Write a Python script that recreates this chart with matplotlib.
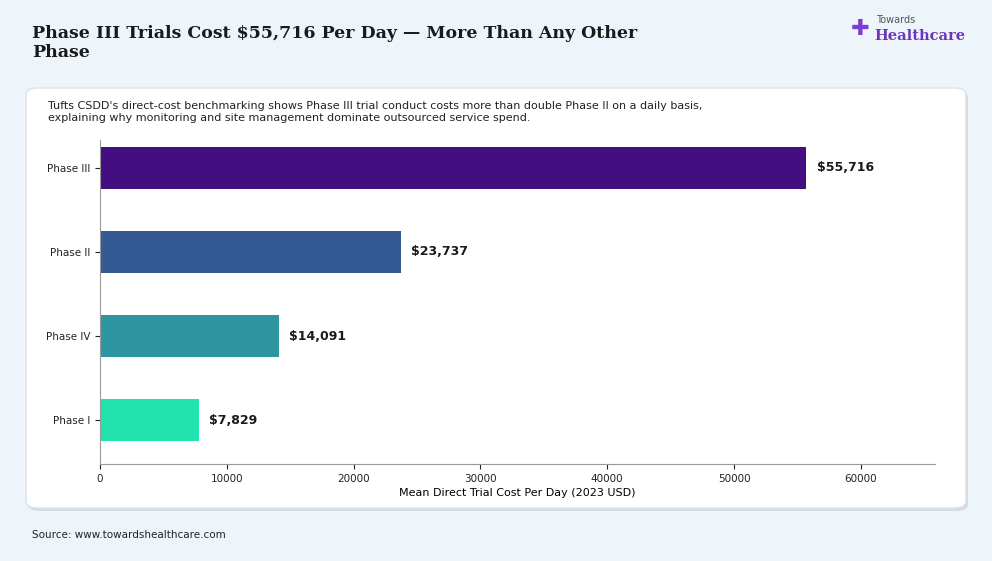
import matplotlib
matplotlib.use("Agg")
import matplotlib.pyplot as plt
from matplotlib.patches import FancyBboxPatch

phases = ["Phase I", "Phase IV", "Phase II", "Phase III"]
costs = [7829, 14091, 23737, 55716]
colors = ["#22e2ae", "#2d96a0", "#335a92", "#430f80"]

fig = plt.figure(figsize=(9.92, 5.61), dpi=100)
fig.patch.set_facecolor("#edf4fa")
W, H = 992, 561
card = FancyBboxPatch((26/W, 1-508/H), 940/W, 420/H, boxstyle="round,pad=0,rounding_size=0.012",
                      transform=fig.transFigure, facecolor="white", edgecolor="#dde3ea", lw=1, zorder=0)
shadow = FancyBboxPatch((28/W, 1-511/H), 940/W, 420/H, boxstyle="round,pad=0,rounding_size=0.012",
                        transform=fig.transFigure, facecolor="#d5dbe2", edgecolor="none", zorder=-1)
fig.patches.extend([shadow, card])

fig.text(32/W, 1-43/H, "Phase III Trials Cost $55,716 Per Day — More Than Any Other\nPhase",
         family="DejaVu Serif", weight="bold", fontsize=12.5, va="center", linespacing=1.2, color="#1a1a1a")
fig.text(48/W, 1-112/H, "Tufts CSDD's direct-cost benchmarking shows Phase III trial conduct costs more than double Phase II on a daily basis,\nexplaining why monitoring and site management dominate outsourced service spend.",
         fontsize=8, va="center", color="#222222", linespacing=1.3)
fig.text(32/W, 1-535/H, "Source: www.towardshealthcare.com", fontsize=7.5, va="center", color="#222222")
fig.text(876/W, 1-20/H, "Towards", fontsize=7, color="#555555", va="center")
fig.text(874/W, 1-36/H, "Healthcare", fontsize=10.5, family="DejaVu Serif", weight="bold", color="#6a35b8", va="center")
fig.text(851/W, 1-29/H, "✚", fontsize=16, color="#7b3fd0", va="center")

ax = fig.add_axes([100/W, 1-464/H, 835/W, 324/H], zorder=5)
ax.barh(phases, costs, color=colors, height=0.5)
for i, v in enumerate(costs):
    ax.text(v + 800, i, f"${v:,}", va="center", fontsize=9, weight="bold", color="#1a1a1a")
ax.set_xlim(0, 65850)
ax.set_ylim(-0.52, 3.33)
ax.set_xticks([0, 10000, 20000, 30000, 40000, 50000, 60000])
ax.tick_params(labelsize=7.5, colors="#222222")
ax.set_xlabel("Mean Direct Trial Cost Per Day (2023 USD)", fontsize=8, labelpad=3)
for s in ["top", "right"]:
    ax.spines[s].set_visible(False)
for s in ["left", "bottom"]:
    ax.spines[s].set_color("#999999")
ax.set_facecolor("white")
fig.savefig("out.png", dpi=100, facecolor=fig.get_facecolor())
